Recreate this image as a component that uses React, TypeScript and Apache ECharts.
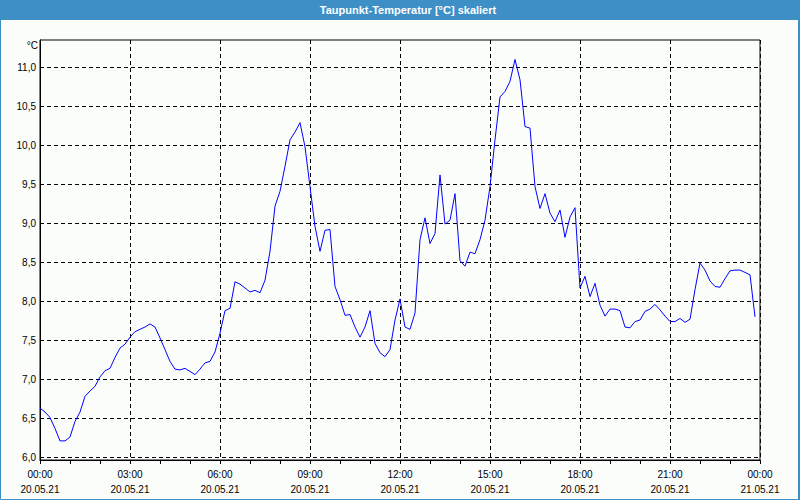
import React, { useEffect, useRef } from "react";
import * as echarts from "echarts";

const titleText = "Taupunkt-Temperatur [°C] skaliert";
const unitLabel = "°C";
// Measurements every 10 minutes from 00:00 to 23:50 on 20.05.21
const startDate = "20.05.21";
const endDate = "21.05.21";
const dewPoint = [
  6.63, 6.58, 6.51, 6.37, 6.21, 6.21, 6.26, 6.46, 6.58, 6.78, 6.85, 6.91,
  7.03, 7.11, 7.14, 7.28, 7.40, 7.45, 7.54, 7.61, 7.64, 7.67, 7.71, 7.67,
  7.53, 7.38, 7.23, 7.13, 7.12, 7.14, 7.10, 7.06, 7.13, 7.21, 7.23, 7.35,
  7.59, 7.88, 7.91, 8.25, 8.22, 8.17, 8.12, 8.14, 8.11, 8.27, 8.64, 9.22,
  9.41, 9.73, 10.07, 10.17, 10.29, 9.98, 9.47, 8.96, 8.64, 8.91, 8.92, 8.19,
  8.02, 7.82, 7.83, 7.67, 7.54, 7.67, 7.88, 7.46, 7.34, 7.29, 7.38, 7.76,
  8.03, 7.67, 7.64, 7.85, 8.79, 9.07, 8.74, 8.87, 9.62, 8.99, 9.04, 9.38,
  8.52, 8.45, 8.63, 8.61, 8.79, 9.04, 9.47, 10.07, 10.62, 10.69, 10.82, 11.10,
  10.84, 10.24, 10.22, 9.47, 9.19, 9.38, 9.13, 9.02, 9.17, 8.82, 9.08, 9.20,
  8.17, 8.32, 8.06, 8.23, 7.95, 7.81, 7.90, 7.90, 7.88, 7.67, 7.66, 7.74,
  7.76, 7.87, 7.90, 7.96, 7.89, 7.81, 7.74, 7.74, 7.78, 7.73, 7.77, 8.15,
  8.49, 8.40, 8.26, 8.19, 8.18, 8.29, 8.39, 8.40, 8.40, 8.37, 8.34, 7.80,
];
const yTicks = [6.0, 6.5, 7.0, 7.5, 8.0, 8.5, 9.0, 9.5, 10.0, 10.5, 11.0];
const xTicks = [0, 3, 6, 9, 12, 15, 18, 21, 24];

const FONT = "Liberation Sans";

export default function App() {
  const ref = useRef<HTMLDivElement>(null);
  useEffect(() => {
    document.body.style.margin = "0";
    const chart = echarts.init(ref.current!, null, { renderer: "svg" });
    const data = dewPoint.map((v, i) => [i / 6, v]);
    const pad = (n: number) => (n < 10 ? "0" + n : "" + n);
    chart.setOption({
      animation: false,
      backgroundColor: "#fbfdfb",
      textStyle: { fontFamily: FONT },
      grid: {
        left: 40,
        top: 40,
        width: 720,
        height: 420,
        show: true,
        borderColor: "#000",
        borderWidth: 1,
        backgroundColor: "transparent",
      },
      graphic: [
        {
          type: "rect",
          shape: { x: 0, y: 0, width: 800, height: 20 },
          style: { fill: "#3d8fc6" },
          silent: true,
        },
        {
          type: "rect",
          shape: { x: 0.5, y: 0.5, width: 798, height: 499 },
          style: { fill: "none", stroke: "#3d8fc6", lineWidth: 1 },
          silent: true,
        },
        {
          type: "rect",
          shape: { x: 798, y: 0, width: 2, height: 500 },
          style: { fill: "#3d8fc6" },
          silent: true,
        },
        {
          type: "text",
          x: 408,
          y: 10,
          style: {
            text: titleText,
            fill: "#ffffff",
            font: `bold 11px "${FONT}"`,
            textAlign: "center",
            textVerticalAlign: "middle",
          },
          silent: true,
        },
        {
          type: "text",
          x: 38,
          y: 45,
          style: {
            text: unitLabel,
            fill: "#000",
            font: `10px "${FONT}"`,
            textAlign: "right",
            textVerticalAlign: "middle",
          },
          silent: true,
        },
      ],
      xAxis: {
        type: "value",
        min: 0,
        max: 24,
        interval: 3,
        axisLine: { show: true, lineStyle: { color: "#000", width: 1 } },
        axisTick: { show: true, length: 4, lineStyle: { color: "#000" } },
        minorTick: { show: true, splitNumber: 3, length: 4, lineStyle: { color: "#000" } },
        splitLine: {
          show: true,
          lineStyle: { color: "#000", type: [4, 3], width: 1 },
        },
        axisLabel: {
          customValues: xTicks,
          color: "#000",
          fontSize: 10,
          fontFamily: FONT,
          margin: 7,
          lineHeight: 15,
          formatter: (v: number) => {
            const h = Math.round(v) % 24;
            return pad(h) + ":00\n" + (v >= 24 ? endDate : startDate);
          },
        },
      },
      yAxis: {
        type: "value",
        min: 5.965,
        max: 11.35,
        axisLine: { show: true, lineStyle: { color: "#000", width: 1 } },
        axisTick: { show: false },
        splitLine: { show: false },
        axisLabel: {
          customValues: yTicks,
          color: "#000",
          fontSize: 10,
          fontFamily: FONT,
          margin: 4,
          formatter: (v: number) => v.toFixed(1).replace(".", ","),
        },
      },
      series: [
        {
          type: "line",
          data,
          showSymbol: false,
          symbol: "none",
          lineStyle: { color: "#0000ff", width: 1 },
          z: 3,
          markLine: {
            silent: true,
            symbol: ["none", "none"],
            label: { show: false },
            lineStyle: { color: "#000", type: [4, 3], width: 1 },
            data: yTicks.map((t) => ({ yAxis: t })),
            z: 1,
          },
        },
      ],
    });
    return () => chart.dispose();
  }, []);
  return <div ref={ref} style={{ width: 800, height: 500 }} />;
}
